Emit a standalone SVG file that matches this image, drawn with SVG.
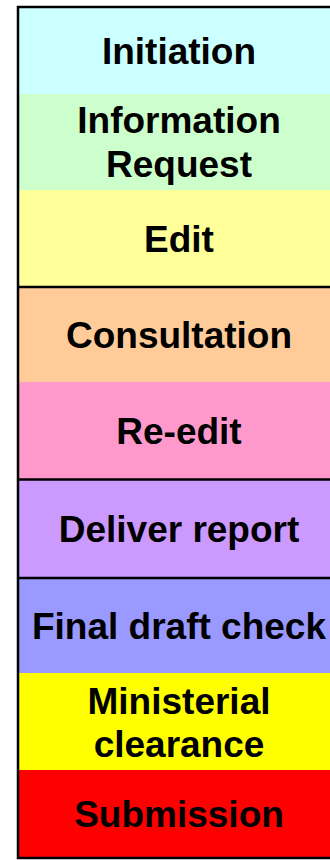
<svg xmlns="http://www.w3.org/2000/svg" width="330" height="860" viewBox="0 0 330 860">
<style>
.lbl{font-family:"Liberation Sans",Arial,sans-serif;font-weight:bold;font-size:37px;fill:#000;text-anchor:middle}
.ln{stroke:#000;stroke-width:2.5;fill:none}
</style>
<rect width="330" height="860" fill="#fff"/>
<g id="initiation"><rect x="18" y="7" width="330" height="87" fill="#CCFFFF"/><text class="lbl" x="179" y="64">Initiation</text></g>
<g id="information-request"><rect x="18" y="94" width="330" height="96" fill="#CCFFCC"/><text class="lbl" x="179" y="133">Information</text><text class="lbl" x="179" y="177">Request</text></g>
<g id="edit"><rect x="18" y="190" width="330" height="97" fill="#FFFF99"/><text class="lbl" x="179" y="252">Edit</text></g>
<g id="consultation"><rect x="18" y="287" width="330" height="95" fill="#FFCC99"/><text class="lbl" x="179" y="348">Consultation</text></g>
<g id="re-edit"><rect x="18" y="382" width="330" height="97" fill="#FF99CC"/><text class="lbl" x="179" y="444">Re-edit</text></g>
<g id="deliver-report"><rect x="18" y="479" width="330" height="99" fill="#CC99FF"/><text class="lbl" x="179" y="542">Deliver report</text></g>
<g id="final-draft-check"><rect x="18" y="578" width="330" height="95" fill="#9999FF"/><text class="lbl" x="179" y="639">Final draft check</text></g>
<g id="ministerial-clearance"><rect x="18" y="673" width="330" height="97" fill="#FFFF00"/><text class="lbl" x="179" y="714">Ministerial</text><text class="lbl" x="179" y="757">clearance</text></g>
<g id="submission"><rect x="18" y="770" width="330" height="88" fill="#FF0000"/><text class="lbl" x="179" y="827">Submission</text></g>
<g id="connectors">
<path class="ln" d="M340,7 H18 V858 H340"/>
<path class="ln" d="M18,287 H340 M18,479.5 H340 M18,578 H340"/>
</g>
</svg>
